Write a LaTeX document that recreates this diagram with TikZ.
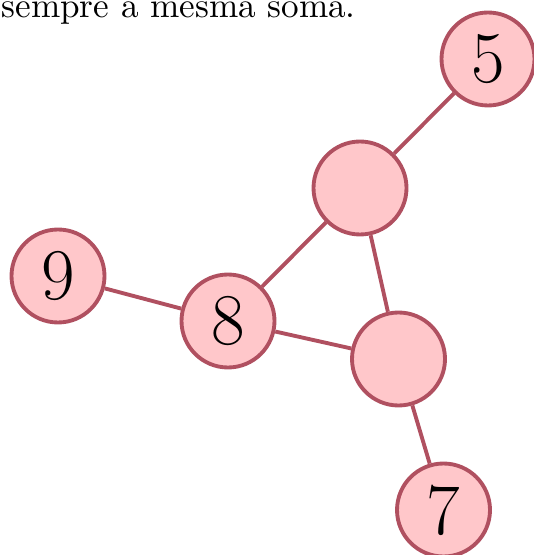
\documentclass[tikz,border=0pt]{standalone}
\usepackage{amsmath}
\usepackage{tikz}

\definecolor{discfill}{RGB}{255,199,202}
\definecolor{discline}{RGB}{176,80,96}

\tikzset{
  disc/.style={circle, draw=discline, fill=discfill, line width=1.1pt,
    minimum size=0.93cm, inner sep=0pt, font=\huge},
  link/.style={draw=discline, line width=1.1pt}
}

\begin{document}
\begin{tikzpicture}
                \useasboundingbox (0,0) rectangle (5.33,-5.55);
                % Text
                \node[anchor=base west, inner sep=0pt] (txt) at (0.01,-0.175) {sempre a mesma soma.};

                % Nodes
                \node[disc] (5) at (4.88,-0.59) {5};
                \node[disc] (a) at (3.60,-1.88) {};
                \node[disc] (9) at (0.58,-2.76) {9};
                \node[disc] (8) at (2.28,-3.21) {8};
                \node[disc] (b) at (3.985,-3.59) {};
                \node[disc] (7) at (4.435,-5.10) {7};

                % Edges
                \draw[link] (5)--(a);
                \draw[link] (a)--(8);
                \draw[link] (a)--(b);
                \draw[link] (9)--(8);
                \draw[link] (8)--(b);
                \draw[link] (b)--(7);
            \end{tikzpicture}
\end{document}
